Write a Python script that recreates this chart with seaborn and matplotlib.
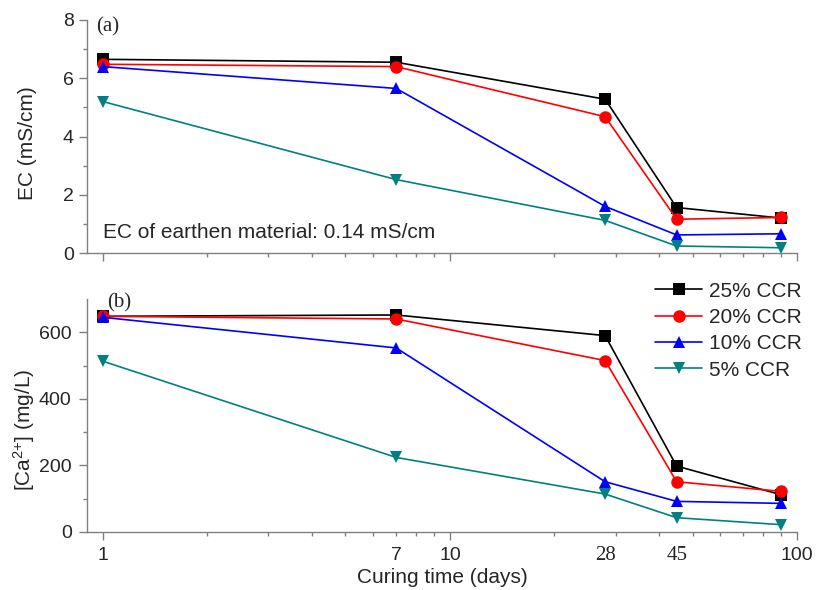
import matplotlib
matplotlib.use("Agg")
import matplotlib.pyplot as plt
import matplotlib.ticker as mticker
import matplotlib.transforms as mtransforms
import numpy as np
import pandas as pd
import seaborn as sns

sns.set_theme(style="ticks")
plt.rcParams['font.family'] = ['Liberation Sans', 'DejaVu Sans']
plt.rcParams['mathtext.default'] = 'regular'

# data
days = [1, 7, 28, 45, 90]
series = ["25% CCR", "20% CCR", "10% CCR", "5% CCR"]
ec_25 = [6.65, 6.55, 5.28, 1.56, 1.20]
ec_20 = [6.48, 6.40, 4.68, 1.16, 1.22]
ec_10 = [6.40, 5.65, 1.60, 0.62, 0.66]
ec_5 = [5.20, 2.52, 1.12, 0.24, 0.18]
ca_25 = [648, 652, 590, 198, 112]
ca_20 = [648, 640, 515, 151, 122]
ca_10 = [645, 553, 151, 92, 86]
ca_5 = [513, 224, 114, 43, 22]

colors = {"25% CCR": "black", "20% CCR": "red", "10% CCR": "blue", "5% CCR": "#008080"}
markers = {"25% CCR": "s", "20% CCR": "o", "10% CCR": "^", "5% CCR": "v"}


def long_df(vals):
    rows = []
    for name, v in zip(series, vals):
        for d, y in zip(days, v):
            rows.append({"days": d, "value": y, "mix": name})
    return pd.DataFrame(rows)


df_ec = long_df([ec_25, ec_20, ec_10, ec_5])
df_ca = long_df([ca_25, ca_20, ca_10, ca_5])

fig = plt.figure(figsize=(8.22, 5.9), dpi=100)
ax1 = fig.add_axes([87 / 822, 1 - 253 / 590, 710 / 822, 233 / 590])
ax2 = fig.add_axes([87 / 822, 1 - 532 / 590, 710 / 822, 233 / 590])

gray = "#808080"
for ax, df in [(ax1, df_ec), (ax2, df_ca)]:
    sns.lineplot(data=df, x="days", y="value", hue="mix", style="mix",
                 hue_order=series, style_order=series, palette=colors,
                 markers=markers, dashes=False, markersize=9,
                 markeredgewidth=0, linewidth=1.2, ax=ax, legend=(ax is ax2))
    ax.set_xscale("log")
    ax.set_xlim(0.9, 100)
    ax.xaxis.set_major_locator(mticker.FixedLocator([1, 10, 100]))
    ax.xaxis.set_minor_locator(mticker.FixedLocator(
        [2, 3, 4, 5, 6, 7, 8, 9, 20, 30, 40, 50, 60, 70, 80, 90]))
    sns.despine(ax=ax)
    for s in ["left", "bottom"]:
        ax.spines[s].set_color(gray)
        ax.spines[s].set_linewidth(1.0)
    ax.tick_params(which="major", length=6, width=1, color=gray, labelsize=14)
    ax.tick_params(which="minor", length=3, width=1, color=gray)
    ax.set_xlabel("")

# top panel
ax1.set_ylim(0, 8)
ax1.set_yticks([0, 2, 4, 6, 8])
ax1.yaxis.set_minor_locator(mticker.FixedLocator([1, 3, 5, 7]))
ax1.set_xticklabels([])
ax1.xaxis.set_minor_formatter(mticker.NullFormatter())
ax1.set_ylabel("EC (mS/cm)", fontsize=15)
ax1.yaxis.set_label_coords(-0.07, 0.47)
ax1.text(1.0, 0.7, "EC of earthen material: 0.14 mS/cm", fontsize=15, va="center")
ax1.text(0.955, 7.75, "(a)", fontsize=15, family="Liberation Serif", va="center")

# bottom panel
ax2.set_ylim(0, 700)
ax2.set_yticks([0, 200, 400, 600])
ax2.yaxis.set_minor_locator(mticker.FixedLocator([100, 300, 500]))
ax2.set_xticklabels(["1", "10", "100"])
ax2.xaxis.set_minor_formatter(mticker.FixedFormatter(
    ["", "", "", "", "", "7", "", "", "", "", "", "", "", "", "", ""]))
ax2.tick_params(which="major", pad=5)
ax2.tick_params(which="minor", labelsize=14, pad=8)
trans = mtransforms.blended_transform_factory(ax2.transData, ax2.transAxes)
for lab in [28, 45]:
    ax2.text(lab, -0.06, str(lab), transform=trans, ha="center", va="top",
             fontsize=15, family="Liberation Serif")
ax2.set_ylabel(r"[Ca$^{2{+}}$] (mg/L)", fontsize=15)
ax2.yaxis.set_label_coords(-0.07, 0.44)
ax2.set_xlabel("Curing time (days)", fontsize=15, labelpad=3)
ax2.text(1.03, 688, "(b)", fontsize=15, family="Liberation Serif", va="center")

handles, labels = ax2.get_legend_handles_labels()
ax2.legend(handles, labels, loc="upper right", frameon=False, fontsize=15,
           handlelength=2.3, labelspacing=0.35, handletextpad=0.3,
           bbox_to_anchor=(0.998, 1 - 263 / 590), bbox_transform=fig.transFigure)

fig.savefig("out.png", dpi=100)
